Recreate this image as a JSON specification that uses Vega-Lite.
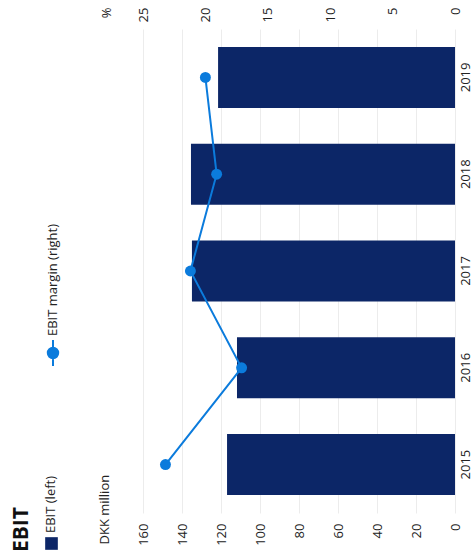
{
  "$schema": "https://vega.github.io/schema/vega-lite/v6.json",
  "width": 312,
  "height": 484,
  "autosize": {"type": "none"},
  "padding": {"left": 143, "top": 29, "right": 21, "bottom": 45},
  "config": {
    "font": "Open Sans",
    "view": {"stroke": null},
    "axis": {"labelColor": "#222222", "labelFontSize": 13, "labelFont": "Open Sans", "titleFont": "Open Sans", "titleFontWeight": "normal", "titleColor": "#222222", "titleFontSize": 13}
  },
  "title": {"text": "EBIT", "orient": "left", "anchor": "start", "fontSize": 21, "fontWeight": "bold", "color": "#111111", "font": "Open Sans", "dx": -2, "dy": -3},
  "data": {
    "values": [
      {"year": "2015", "ebit": 116.9, "margin": 23.2},
      {"year": "2016", "ebit": 111.8, "margin": 17.1},
      {"year": "2017", "ebit": 134.9, "margin": 21.2},
      {"year": "2018", "ebit": 135.4, "margin": 19.1},
      {"year": "2019", "ebit": 121.5, "margin": 20.0}
    ]
  },
  "encoding": {
    "y": {
      "field": "year", "type": "ordinal", "sort": "descending",
      "scale": {"paddingInner": 0.37, "paddingOuter": 0.185},
      "axis": {"orient": "right", "title": null, "labelAngle": -90, "ticks": false, "tickSize": 0, "domain": false, "grid": false, "labelPadding": 4, "labelAlign": "center", "labelBaseline": "top"}
    }
  },
  "layer": [
    {
      "mark": {"type": "bar", "color": "#0c2667"},
      "encoding": {
        "x": {
          "field": "ebit", "type": "quantitative",
          "scale": {"domain": [0, 160], "reverse": true, "nice": false},
          "axis": {"orient": "bottom", "title": "DKK million", "values": [0, 20, 40, 60, 80, 100, 120, 140, 160], "labelAngle": -90, "labelAlign": "right", "labelBaseline": "middle", "labelPadding": 10, "ticks": false, "tickSize": 0, "domain": false, "grid": true, "gridColor": "#ececec", "titleAngle": -90, "titleAlign": "left", "titleBaseline": "middle", "titleX": -39, "titleY": 31}
        },
        "fill": {
          "datum": "EBIT (left)", "type": "nominal",
          "scale": {"range": ["#0c2667"]},
          "legend": {"title": null, "orient": "none", "legendX": -99, "legendY": 507, "symbolType": "square", "symbolSize": 160, "labelFontSize": 13, "labelColor": "#222222", "padding": 0,
            "encode": {"labels": {"update": {"angle": {"value": -90}, "align": {"value": "left"}, "baseline": {"value": "middle"}, "x": {"value": 7}, "y": {"value": -3}}}}}
        }
      }
    },
    {
      "encoding": {
        "x": {
          "field": "margin", "type": "quantitative",
          "scale": {"domain": [0, 25], "reverse": true, "nice": false},
          "axis": {"orient": "top", "title": "%", "values": [0, 5, 10, 15, 20, 25], "labelAngle": -90, "labelAlign": "right", "labelBaseline": "middle", "labelPadding": 22, "ticks": false, "tickSize": 0, "domain": false, "grid": false, "titleAngle": -90, "titleAlign": "right", "titleBaseline": "middle", "titleX": -37, "titleY": -22}
        },
        "stroke": {
          "datum": "EBIT margin (right)", "type": "nominal",
          "scale": {"range": ["#0b7bdc"]},
          "legend": {"title": null, "orient": "none", "legendX": -104, "legendY": 310, "symbolType": "M0,-1L0,1M0,-0.4A0.4,0.4,0,1,1,0,0.4A0.4,0.4,0,1,1,0,-0.4Z", "symbolSize": 676, "symbolStrokeWidth": 2, "symbolFillColor": "#0b7bdc", "labelFontSize": 13, "labelColor": "#222222", "padding": 0,
            "encode": {"labels": {"update": {"angle": {"value": -90}, "align": {"value": "left"}, "baseline": {"value": "middle"}, "x": {"value": 14}, "y": {"value": -3}}}}}
        }
      },
      "layer": [
        {"mark": {"type": "line", "strokeWidth": 2, "color": "#0b7bdc"}},
        {"mark": {"type": "point", "filled": true, "size": 120, "fill": "#0b7bdc", "opacity": 1, "strokeWidth": 0}}
      ]
    }
  ],
  "resolve": {"scale": {"x": "independent"}, "legend": {"fill": "independent", "stroke": "independent"}}
}
